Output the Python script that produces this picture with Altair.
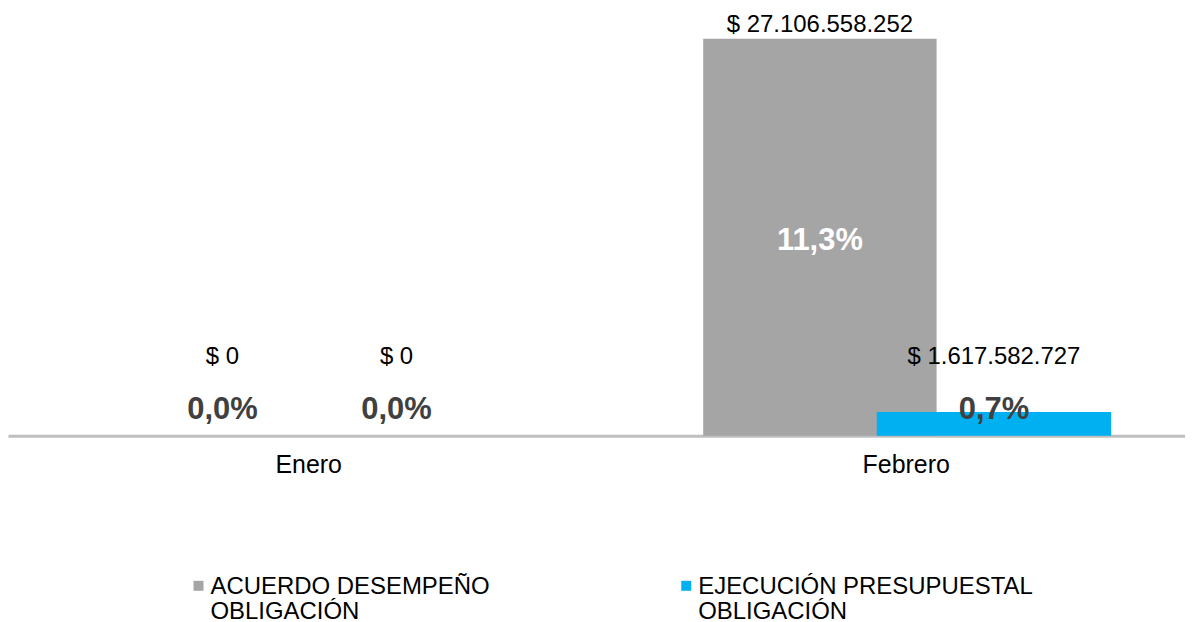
import altair as alt
import pandas as pd

months = ["Enero", "Febrero"]
series_names = ["ACUERDO DESEMPEÑO|OBLIGACIÓN", "EJECUCIÓN PRESUPUESTAL|OBLIGACIÓN"]
acuerdo_values = [0, 27106558252]
ejecucion_values = [0, 1617582727]
acuerdo_pct = [0.0, 11.3]
ejecucion_pct = [0.0, 0.7]
series_colors = ["#A5A5A5", "#00B0F0"]


def money(v):
    return "$ " + f"{v:,}".replace(",", ".")


def pct(p):
    return f"{p:.1f}".replace(".", ",") + "%"


rows = []
for s, vals, pcts in [(series_names[0], acuerdo_values, acuerdo_pct),
                      (series_names[1], ejecucion_values, ejecucion_pct)]:
    for m, v, p in zip(months, vals, pcts):
        rows.append(dict(mes=m, serie=s, valor=v, valor_lbl=money(v), pct_lbl=pct(p)))
df = pd.DataFrame(rows)

FONT = "Liberation Sans"
YMAX = 29.15e9
LBL_MIN = 4.41e9
PCT_MIN = 2.0e9

x = alt.X("mes:N", sort=months, title=None,
          scale=alt.Scale(paddingInner=0.06, paddingOuter=0.015, align=1, round=False),
          axis=alt.Axis(labelFont=FONT, labelFontSize=25, labelColor="black",
                        labelPadding=17, labelOffset=2, ticks=False, domainColor="#BFBFBF",
                        domainWidth=3, labelAngle=0, title=None))
yscale = alt.Scale(domain=[0, YMAX], nice=False, zero=True)

base = alt.Chart(df).transform_calculate(
    lbl_y=f"max(datum.valor, {LBL_MIN})",
    pct_y=f"max(datum.valor / 2, {PCT_MIN})",
)

color = alt.Color("serie:N", scale=alt.Scale(domain=series_names, range=series_colors),
                  legend=alt.Legend(title=None, orient="none", legendX=179, legendY=556,
                                    direction="horizontal", columns=2, columnPadding=184,
                                    symbolType="M-1,1.1H1V3.1H-1Z", symbolSize=100,
                                    symbolStrokeWidth=0, labelFont=FONT, labelFontSize=24,
                                    labelColor="black", labelBaseline="top",
                                    labelExpr="split(datum.label, '|')", labelOffset=0,
                                    labelLimit=0, padding=0))

offsets = [-84.5, 90]
sizes = [234, 235]
layers = []
for i, s in enumerate(series_names):
    layers.append(
        base.transform_filter(alt.datum.serie == s)
        .mark_bar(size=sizes[i], xOffset=offsets[i])
        .encode(x=x, y=alt.Y("valor:Q", scale=yscale, axis=None), color=color)
    )
for i, s in enumerate(series_names):
    layers.append(
        base.transform_filter(alt.datum.serie == s)
        .mark_text(xOffset=offsets[i], dy=-14, font=FONT, fontSize=24, color="black",
                   baseline="middle")
        .encode(x=x, y=alt.Y("lbl_y:Q", scale=yscale, axis=None), text="valor_lbl:N")
    )
    layers.append(
        base.transform_filter(alt.datum.serie == s)
        .mark_text(xOffset=offsets[i], dy=4, font=FONT, fontSize=31, fontWeight="bold",
                   baseline="middle")
        .encode(x=x, y=alt.Y("pct_y:Q", scale=yscale, axis=None), text="pct_lbl:N",
                color=alt.condition(f"datum.valor / 2 > {PCT_MIN}", alt.value("white"),
                                    alt.value("#404040")))
    )

chart = (alt.layer(*layers)
         .properties(width=1180, height=428, padding=0, background="white")
         .configure(style={"guide-label": {"lineHeight": 25}})
         .configure_view(stroke=None))

chart.save("out.html", embed_options={"renderer": "svg", "actions": False})
